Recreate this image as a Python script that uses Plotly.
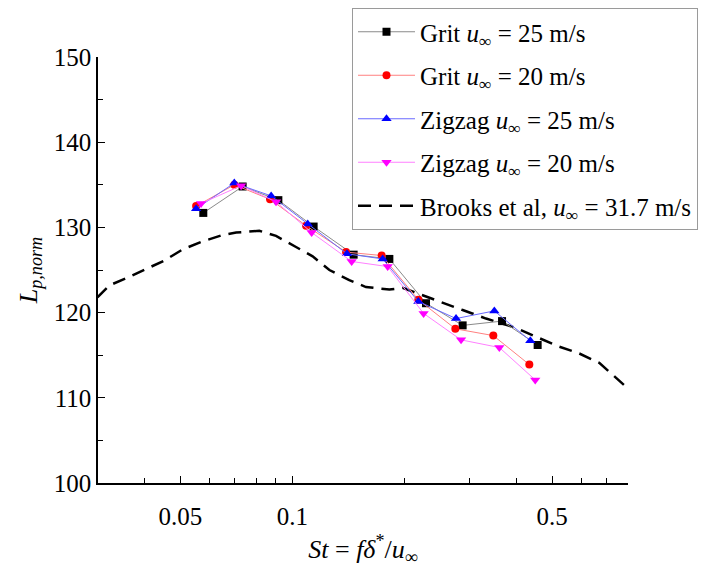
import plotly.graph_objects as go
import numpy as np

# Grit, u = 25 m/s
grit25_st = [0.0576, 0.0735, 0.0917, 0.1141, 0.1462, 0.1824, 0.2289, 0.2872, 0.3666, 0.4571]
grit25_lp = [131.7, 134.8, 133.2, 130.1, 126.8, 126.3, 121.1, 118.5, 119.0, 116.2]

# Grit, u = 20 m/s
grit20_st = [0.0551, 0.0698, 0.0871, 0.1089, 0.1395, 0.1739, 0.2183, 0.2745, 0.3473, 0.4341]
grit20_lp = [132.5, 135.0, 133.3, 130.2, 127.1, 126.7, 121.5, 118.1, 117.3, 113.9]

# Zigzag, u = 25 m/s
zig25_st = [0.0551, 0.0698, 0.0877, 0.1100, 0.1403, 0.1750, 0.2183, 0.2757, 0.3495, 0.4368]
zig25_lp = [132.2, 135.2, 133.7, 130.4, 126.9, 126.3, 121.3, 119.3, 120.2, 116.7]

# Zigzag, u = 20 m/s
zig20_st = [0.0568, 0.0728, 0.0904, 0.1127, 0.1444, 0.1805, 0.2255, 0.2844, 0.3605, 0.4503]
zig20_lp = [132.8, 134.9, 133.0, 129.4, 126.0, 125.4, 119.9, 116.8, 115.9, 112.1]

# Brooks et al, u = 31.7 m/s
brooks_st = [0.0299, 0.0322, 0.0360, 0.0405, 0.0452, 0.0506, 0.0569, 0.0648, 0.0706, 0.0815,
             0.0904, 0.1023, 0.1134, 0.1258, 0.1423, 0.1578, 0.1824, 0.1980, 0.2196, 0.2486,
             0.2872, 0.3320, 0.3997, 0.4619, 0.5229, 0.5918, 0.6696, 0.7902]
brooks_lp = [121.8, 123.2, 124.1, 125.1, 126.1, 127.4, 128.3, 129.1, 129.4, 129.6,
             129.0, 127.7, 126.6, 125.0, 123.8, 123.0, 122.7, 122.9, 122.2, 121.3,
             120.3, 119.3, 118.2, 117.0, 116.0, 115.2, 114.1, 111.3]

x_tickvals = [0.05, 0.1, 0.5]
x_ticktext = ["0.05", "0.1", "0.5"]
x_minor = [0.04, 0.06, 0.07, 0.08, 0.09, 0.2, 0.3, 0.4, 0.6, 0.7, 0.8]
y_tickvals = [100, 110, 120, 130, 140, 150]

FONT = "Liberation Serif, Times New Roman, Times, DejaVu Serif, serif"
U = "<i>u</i><sub>∞</sub>"

fig = go.Figure()
fig.add_trace(go.Scatter(
    x=brooks_st, y=brooks_lp, mode="lines",
    line=dict(color="black", width=2.5, dash="13px,8px"),
    name=f"Brooks et al, {U} = 31.7 m/s", legendgroup="e", legendrank=5))
fig.add_trace(go.Scatter(
    x=grit25_st, y=grit25_lp, mode="lines+markers",
    line=dict(color="#8a8a8a", width=1),
    marker=dict(symbol="square", size=8, color="black"),
    name=f"Grit {U} = 25 m/s", legendgroup="a", legendrank=1))
fig.add_trace(go.Scatter(
    x=grit20_st, y=grit20_lp, mode="lines+markers",
    line=dict(color="#ff8080", width=1),
    marker=dict(symbol="circle", size=8, color="#ff0000"),
    name=f"Grit {U} = 20 m/s", legendgroup="b", legendrank=2))
fig.add_trace(go.Scatter(
    x=zig25_st, y=zig25_lp, mode="lines+markers",
    line=dict(color="#6a6aff", width=1),
    marker=dict(symbol="triangle-up", size=9, color="#0000ff"),
    name=f"Zigzag {U} = 25 m/s", legendgroup="c", legendrank=3))
fig.add_trace(go.Scatter(
    x=zig20_st, y=zig20_lp, mode="lines+markers",
    line=dict(color="#ff80ff", width=1),
    marker=dict(symbol="triangle-down", size=9, color="#ff00ff"),
    name=f"Zigzag {U} = 20 m/s", legendgroup="d", legendrank=4))

# page body adds an 8 px offset; margins compensate so the plot area lands at
# x 98..628, y 57..483 on screen
fig.update_layout(
    width=706, height=569,
    margin=dict(l=90, r=86, t=49, b=94, autoexpand=False),
    paper_bgcolor="white", plot_bgcolor="white",
    font=dict(family=FONT, size=25, color="black"),
    showlegend=True,
    legend=dict(
        x=(344 - 90) / 530, y=(475 + 0) / 426, xanchor="left", yanchor="top",
        bordercolor="#9a9a9a", borderwidth=1, bgcolor="white",
        font=dict(family=FONT, size=25, color="black"),
        itemwidth=57, tracegroupgap=8, traceorder="grouped",
    ),
    xaxis=dict(
        type="log", range=[np.log10(0.03), np.log10(0.8)],
        tickmode="array", tickvals=x_tickvals, ticktext=x_ticktext,
        ticks="inside", ticklen=7, tickwidth=1.2, tickcolor="black",
        minor=dict(tickmode="array", tickvals=x_minor, ticks="inside", ticklen=5,
                   tickwidth=1.2, tickcolor="black", showgrid=False),
        showline=True, linecolor="black", linewidth=1.5, mirror=False,
        showgrid=False, zeroline=False, ticklabelstandoff=10,
        title=dict(text="<i>St</i> = <i>fδ</i><sup>*</sup>/<i>u</i><sub>∞</sub>",
                   font=dict(family=FONT, size=26), standoff=11),
        tickfont=dict(family=FONT, size=25),
    ),
    yaxis=dict(
        range=[100, 150], tickmode="array", tickvals=y_tickvals,
        ticks="inside", ticklen=7, tickwidth=1.2, tickcolor="black",
        minor=dict(dtick=5, ticks="inside", ticklen=5, tickwidth=1.2,
                   tickcolor="black", showgrid=False),
        showline=True, linecolor="black", linewidth=1.5, mirror=False,
        showgrid=False, zeroline=False,
        title=dict(text="<i>L</i><sub><i>p,norm</i></sub>",
                   font=dict(family=FONT, size=26), standoff=9),
        tickfont=dict(family=FONT, size=25),
    ),
)

fig.write_html("out.html")
